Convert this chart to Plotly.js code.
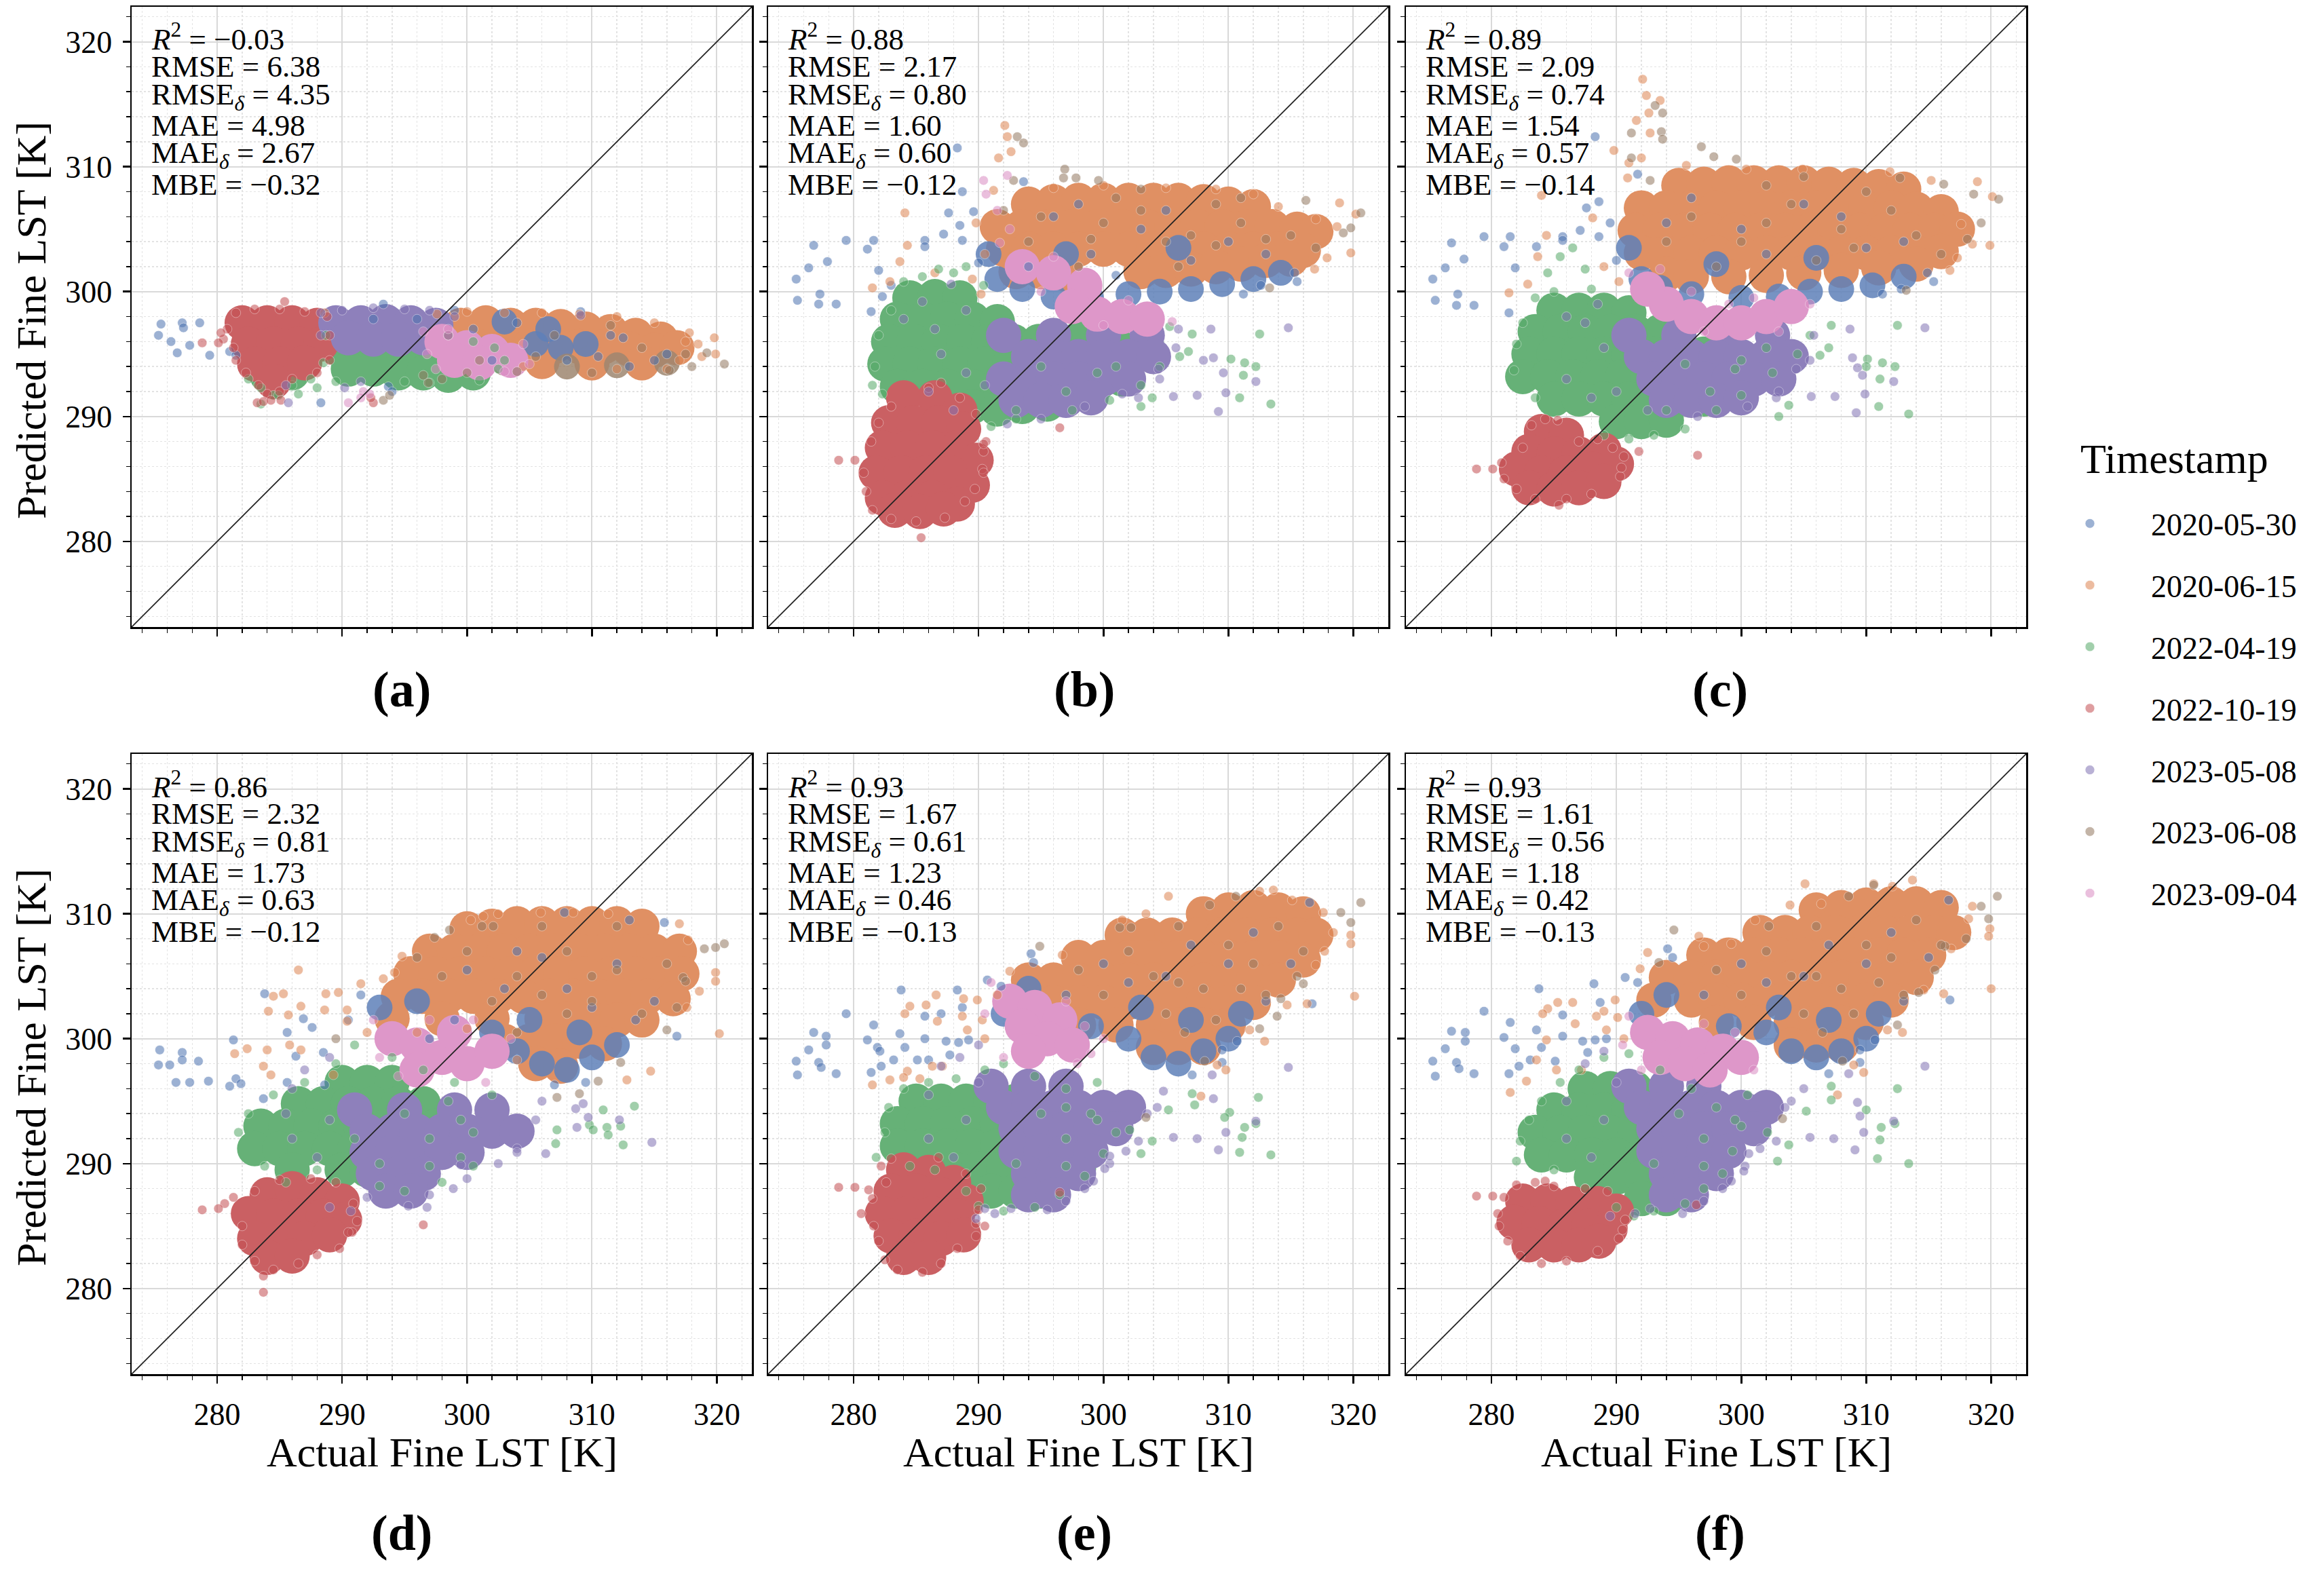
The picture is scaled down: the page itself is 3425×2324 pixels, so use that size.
<!DOCTYPE html>
<html>
<head>
<meta charset="utf-8">
<script src="https://cdn.plot.ly/plotly-3.0.1.min.js"></script>
<style>
html, body { margin: 0; padding: 0; background: #fff; }
#plot { width: 3425px; height: 2324px; }
</style>
</head>
<body>
<div id="plot"></div>
<script>
// ---- series / labels ----
const seriesNames = ['2020-05-30', '2020-06-15', '2022-04-19', '2022-10-19', '2023-05-08', '2023-06-08', '2023-09-04'];
const panelLetters = ['a', 'b', 'c', 'd', 'e', 'f'];
const tickVals = [280, 290, 300, 310, 320];

// metrics per panel (a..f)
const r2    = [-0.03, 0.88, 0.89, 0.86, 0.93, 0.93];
const rmse  = [6.38, 2.17, 2.09, 2.32, 1.67, 1.61];
const rmseD = [4.35, 0.80, 0.74, 0.81, 0.61, 0.56];
const mae   = [4.98, 1.60, 1.54, 1.73, 1.23, 1.18];
const maeD  = [2.67, 0.60, 0.57, 0.63, 0.46, 0.42];
const mbe   = [-0.32, -0.12, -0.14, -0.12, -0.13, -0.13];

// ---- point clouds: [actual, predicted] ----
// *_core = dense interior of a cloud, *_dots = individual / sparse points

// panel a
const a_blue_core = [[305.5,295.8],[307.5,295.5],[309.5,295.8],[306.5,297],[303,297.6]];
const a_blue_dots = [[275.5,297.4],[275.3,296.5],[276.3,296],[276.8,295.1],[277.2,297.5],[277.3,297.1],[277.8,295.7],[278.6,297.5],[279.4,294.9],[281,295.2],[281.5,294.9],[288.3,291.1],[293.3,299],[293.7,292.4],[294,292],[296,297.8],[299,298.5],[300.5,297],[304,297.5],[308,294.5],[310.5,294.8],[311.5,296.5],[312.5,296.3],[313,294],[315,294.5],[316,295],[309.1,298.4],[292.5,297.8],[302,294.5]];
const a_orange_core = [[299.5,297.3],[301.5,297.5],[303.5,297.3],[305.5,297.3],[307.5,297.2],[309.5,297],[311.5,296.8],[313.5,296.5],[315.5,296.2],[301,295.6],[303,295.6],[305,295.6],[307,295.6],[309,295.6],[311,295.6],[313,295.4],[315,295.3],[316.8,295.5],[306,294.4],[310,294.3],[314,294.3]];
const a_orange_dots = [[297.6,298.2],[300,298.4],[303,298.3],[306,298.3],[309,298.2],[312,298],[315,297.5],[317.8,296.7],[319.8,296.3],[318.8,294.8],[319.9,295],[318.5,295.8],[317,294.5],[288.6,298.3],[316,293.8],[312,293.8],[298.5,296.5],[304.5,294],[317.5,296]];
const a_green_core = [[289.5,295.5],[291.5,295.3],[293.5,295],[295.5,294.8],[297.5,294.5],[299.5,294.3],[290.5,293.8],[292.5,293.8],[294.5,293.5],[296.5,293.5],[298.5,293.3],[300.5,293.5],[301.5,295],[284,293.3],[286,293.5]];
const a_green_dots = [[282.5,293],[283.5,292.3],[284.5,291.7],[286,292.5],[287.5,293],[288.5,294.3],[284.9,291.7],[286.5,291.8],[288,292.3],[289.5,292.8],[295,292.8],[297,292.7],[301,292.9],[302.5,293.8],[302.2,295.5],[300.5,296],[288.7,296.5],[303,294.5],[283.5,291]];
const a_red_core = [[282,297.5],[284,297.5],[286,297.5],[288,297.3],[282.5,295.8],[284.5,295.8],[286.5,295.8],[288.3,295.8],[283,294.2],[285,294.2],[287,294.3],[284.5,292.8]];
const a_red_dots = [[280.8,297],[280.5,296.2],[281.5,298.3],[283,298.6],[285,298.6],[287,298.4],[288.8,298],[289,296.5],[289,294.5],[288,293.5],[286,293],[285,292],[284,291.8],[283.3,292.5],[282.3,293.5],[281.5,294.5],[281.3,295.5],[285.4,299.2],[283.2,291.1],[283.7,291.2],[285.1,291.3],[280.3,296.7],[278.8,295.9],[280.1,295.9],[292.5,291.1],[292.3,291.5],[284.3,291.3]];
const a_purple_core = [[289.5,297.5],[291.5,297.5],[293.5,297.6],[295.5,297.5],[297.5,297.3],[290.5,296.3],[292.5,296.2],[294.5,296.2],[296.5,296.3]];
const a_purple_dots = [[288.3,298.3],[290,298.5],[292.5,298.7],[295,298.6],[297,298.5],[299,298],[298.5,296.5],[288.3,296.5],[309.1,298.1],[285.7,291.1],[290.2,292.3],[291.5,292.8],[285.5,292.5]];
const a_brown_core = [[303,294.3],[308,294],[312,294.1],[316,294.3]];
const a_brown_dots = [[320.6,294.2],[319.2,295.1],[316.2,293.7],[296.9,292.7],[293.3,291.3],[293.8,291.7],[300,293.5],[317.5,295],[318,294],[310,293.5],[304,293.6],[307,296.5],[314,295.5],[305.5,294.8],[301,294.5],[296.5,293.3],[311.5,297.3],[298,293]];
const a_pink_core = [[298,296],[300,295.5],[302,295.2],[299,294.5],[301,294.3],[303.5,294.5]];
const a_pink_dots = [[296.5,296.8],[298.5,297],[304.5,295.8],[305,294.2],[297.5,293.8],[303,293.6],[291.7,292],[290.5,291.1],[292.2,291.8],[291.5,291.5],[296.8,295]];

// panel b
const b_blue_core = [[290.8,303],[291.5,301],[293.5,300.2],[296,299.6],[299,299.5],[302,299.8],[304.5,300],[307,300.2],[309.5,300.6],[312,301],[314.2,301.5],[297,303],[306,303.5]];
const b_blue_dots = [[275.4,301],[276.4,301.9],[276.8,303.7],[277.9,302.4],[275.5,299.3],[277.3,299.8],[277.2,299],[278.6,299],[279.4,304.1],[281.1,303.4],[281.6,304.1],[281.4,298.4],[282,301.7],[285.7,304.1],[285.7,303.6],[287.2,304.6],[287.6,306.3],[288.3,311.5],[288.7,308],[288.7,304.1],[289.6,306.4],[282.3,299.6],[283,300.5],[293.6,308.8],[315.3,301.5],[315.5,300.8],[311.2,299.8],[312.6,300.5],[296,306],[299,303],[303,305],[307,302.5],[310,304],[313,303],[301,301.3],[305,306.5],[294,302],[298,307],[290,302.3],[288.5,305.3]];
const b_orange_core = [[294,307],[296,307.2],[298,307.3],[300,307.3],[302,307.3],[304,307.3],[306,307.3],[308,307.2],[310,307],[312,306.8],
  [291.5,305.2],[293.5,305.2],[295.5,305.2],[297.5,305.2],[299.5,305.2],[301.5,305.2],[303.5,305.2],[305.5,305.2],[307.5,305.2],[309.5,305.2],[311.5,305.2],[313.5,305.2],[315.5,305],[317,304.8],
  [292,303.4],[294,303.4],[296,303.4],[298,303.4],[300,303.4],[302,303.4],[304,303.4],[306,303.4],[308,303.4],[310,303.4],[312,303.4],[314,303.4],[316,303.3],
  [293,301.6],[295,301.6],[297,301.4],[303,301.6],[305,301.7],[307,301.8],[309,302],[311,302.2],[313,302.5],[315,302.6]];
const b_orange_dots = [[292.1,313.3],[292.3,312.4],[292.6,311.2],[291.6,310.7],[291.2,308.1],[284.1,306.3],[284.3,303.7],[283.7,302.4],[281.5,300.3],[282.9,300.8],[318.9,307.1],[319.8,303.1],[320.2,306.2],[318.7,305.2],[316.9,301.8],[317.9,302.7],[296,308.3],[300,308.5],[305,308.3],[309,308.2],[312,307.8],[289.8,305.5],[290.5,303],[314,306.8],[317,305.8],[289.5,301],[290.2,299.8],[286.5,301.5]];
const b_green_core = [[284.5,299.5],[286.5,299.6],[288.5,299.5],
  [283.5,297.8],[285.5,297.8],[287.5,297.8],[289.5,297.8],[291.5,297.6],
  [282.8,296],[284.8,296],[286.8,296],[288.8,296],[290.8,296],[292.8,296],[294.8,296],
  [282.5,294.2],[284.5,294.2],[286.5,294.2],[288.5,294.2],[290.5,294.2],[292.5,294.2],[294.5,294.2],[296.5,294.2],[298.5,294.2],
  [283.5,292.4],[285.5,292.4],[287.5,292.4],[289.5,292.4],[291.5,292.4],[293.5,292.4],[295.5,292.4],[297.5,292.4],[299.5,292.6],[301.5,293],
  [289.5,290.8],[291.5,290.6],[293.5,290.8],[295.5,291],[298,296.2],[301,295.8],[303.5,295.5]];
const b_green_dots = [[281.7,294],[281.5,292.5],[282,296.5],[283,298.5],[286.8,301.8],[288,301.5],[290.4,300.5],[289,302],[291,289.2],[293,289.8],[300.5,291.3],[303,292.5],[304.5,294],[305.3,297.2],[312.5,296.6],[310.2,294.6],[311.3,294.3],[312.2,294],[311.2,293.3],[310.9,291.5],[313.4,291],[303,290.8],[303.9,291.5],[307.1,296.6],[306.8,295.2],[306.1,294.8],[284,300.8],[285.5,301.2],[282.3,291.8],[297.5,290.5],[293,290.5],[297,292],[299.5,293.5],[295,294],[301,294]];
const b_red_core = [[284,291.5],[286.5,291.5],[288.5,290.5],[282.8,289.5],[284.8,289.5],[286.8,289.5],[288.8,289],[282.3,287.5],[284.3,287.5],[286.3,287.5],[288.3,287.5],[289.8,286.5],[281.8,285.5],[283.8,285.5],[285.8,285.5],[287.8,285.5],[289.5,284.5],[282.3,283.5],[284.3,283.5],[286.3,283.5],[288.3,283],[283.3,282.5],[285.3,282.4],[287.2,282.6]];
const b_red_dots = [[280.8,285.5],[281,284],[281.5,282.5],[283,281.8],[285,281.6],[287.3,281.9],[288.9,283.2],[290.3,285.8],[290.6,288],[290.4,287.2],[289.8,290.2],[288.5,291.5],[287,292.7],[286,292.3],[283,290.8],[282,289.5],[281.4,288],[278.8,286.5],[280.1,286.5],[296.5,289.1],[285.4,280.3],[290.4,287.8],[290.4,285.5],[289.7,284.2]];
const b_purple_core = [[292,296.5],[296,296.5],[300,296.5],[303.5,296.5],[294,294.8],[296,294.8],[298,294.8],[300,294.8],[302,294.8],[304,294.8],[292,293],[294,293],[296,293],[298,293],[300,293],[302,293],[293,291.3],[295,291.3],[297,291.3],[299,291.5]];
const b_purple_dots = [[314.8,297.1],[308.6,297],[308.8,294.7],[308,294.5],[309.6,293.5],[312.2,292.8],[309.2,290.4],[309.8,291.9],[307.5,291.7],[305.6,291.6],[302.8,291.5],[304.4,293.8],[292.3,289.4],[295,289.8],[298.5,290.8],[301.5,291.8],[304.5,293],[305.8,295.5],[306,297],[284,297.8],[285.5,299.2],[287.8,300.6],[289,298.5],[286.5,297],[290.5,292.5],[286,292],[288,290.5],[289,293.5],[287,295]];
const b_brown_dots = [[293.1,312.4],[293.6,311.9],[296.9,309.8],[296.8,309.1],[297.8,309.1],[299.6,308.9],[316.2,307.3],[320.6,306.3],[319.8,305.1],[319.2,304.7],[313.3,300.3],[292.8,308.9],[311,307.5],[303,308.2],[295,306],[303,306.5],[311,305.5],[315,304.5],[298,302],[306,302],[301,307.5],[309,307],[294,304],[317,303.5],[300,305.5],[305,304],[309,303.7],[292,306.5],[299,304.2],[307,304.5],[313,304.2]];
const b_pink_core = [[293.5,302],[296,301.5],[298.5,300.5],[297.5,298.8],[299.5,298.2],[301.5,298],[303.5,297.8]];
const b_pink_dots = [[290.4,308.9],[290.6,307.8],[292.3,309.3],[291.7,303.9],[305.5,297.6],[300,297.3],[295,300],[292.5,305],[296,302.8],[302,299.3],[291.5,306.5]];

// panel c
const c_blue_core = [[291,303.5],[292,301],[293.5,300.3],[296,299.8],[300,299.5],[303,299.6],[305.5,300],[308,300.2],[310.5,300.5],[313,301.2],[298,302.2],[306,302.7]];
const c_blue_dots = [[275.3,301],[276.3,301.9],[276.8,303.9],[277.8,302.6],[275.5,299.3],[277.3,299.8],[277.2,298.9],[278.6,298.9],[279.4,304.4],[281,303.6],[281.5,304.4],[281.4,298.3],[281.9,301.9],[285.7,304.4],[285.7,304.1],[287.1,304.9],[287.6,306.7],[288.3,312.4],[288.6,307.2],[288.6,304.4],[283.6,303.6],[314.9,301.5],[315.4,300.8],[311.3,299.8],[312.8,300.2],[291.7,309.4],[300,305],[305,307],[310,303.5],[296,307.5],[302,303],[308,306],[313,304],[294,305.5],[289.5,305.5],[290,302.5]];
const c_orange_core = [[295,308.5],[297,308.6],[299,308.7],[301,308.7],[303,308.7],[305,308.7],[307,308.6],[309,308.5],[311,308.4],[313,308.2],
  [292,306.7],[294,306.7],[296,306.7],[298,306.7],[300,306.7],[302,306.7],[304,306.7],[306,306.7],[308,306.7],[310,306.7],[312,306.7],[314,306.6],[316,306.4],
  [291.5,304.9],[293.5,304.9],[295.5,304.9],[297.5,304.9],[299.5,304.9],[301.5,304.9],[303.5,304.9],[305.5,304.9],[307.5,304.9],[309.5,304.9],[311.5,304.9],[313.5,304.9],[315.5,304.9],[317.3,305],
  [292,303.1],[294,303.1],[296,303.1],[298,303.1],[300,303.1],[302,303.1],[304,303.1],[306,303.1],[308,303.1],[310,303.1],[312,303.1],[314,303.1],[316,303.2],
  [294,301.4],[296,301.2],[299,301.2],[302,301.3],[305,301.5],[308,301.7],[311,301.9],[314,302.2]];
const c_orange_dots = [[292.1,317],[292.4,315.7],[293.5,315.3],[292.6,314.3],[291.6,313.7],[292.7,312.7],[289.8,311.3],[291,310.3],[292,310.7],[284,307.7],[284.4,304.5],[283.7,302.8],[282.9,300.6],[281.4,299.9],[318.9,308.8],[320.1,307.6],[319.9,303.7],[318.5,303.8],[317.3,302.7],[317.6,305.4],[316.7,301.7],[290.9,309.1],[288.1,305.9],[311.9,309.6],[315.2,308.9],[304.9,309.8],[300.4,309.8],[295.6,310.1],[290.2,300.8],[289,302]];
const c_green_core = [[285,298.5],[287,298.5],[289,298.5],[291,298.3],
  [283.5,296.8],[285.5,296.8],[287.5,296.8],[289.5,296.8],[291.5,296.8],[293.5,296.8],
  [283,295],[285,295],[287,295],[289,295],[291,295],[293,295],[295,295],[297,295],
  [282.5,293.2],[284.5,293.2],[286.5,293.2],[288.5,293.2],[290.5,293.2],[292.5,293.2],[294.5,293.2],[296.5,293.2],[298.5,293.2],
  [285,291.4],[287,291.4],[289,291.4],[291,291.4],[293,291.4],[295,291.4],[297,291.4],
  [290,289.6],[292,289.6],[294,289.7]];
const c_green_dots = [[281.8,293.7],[282,295.8],[282.5,297.5],[283.5,299.5],[284.5,301.5],[285.5,302.8],[286.5,303.5],[287.5,301.8],[285,300],[289,288.5],[291,288.2],[293,288.5],[295.5,289],[298,290.5],[300,291.7],[302.5,293.5],[304.5,295],[305.5,296.5],[312.5,297.3],[310.1,294.6],[311.3,294.3],[312.3,294],[311.1,293],[311,290.8],[313.4,290.2],[303,290],[303.8,290.9],[307.2,297.3],[307,295.5],[306.3,294.9],[310,294],[283.5,291.5],[288,300.2],[300,294.5],[302,295.5],[294,290.5],[297.5,292],[299.5,293.8],[295.5,294.2]];
const c_red_core = [[284,288.8],[286,288.5],[283,287.2],[285,287],[287,287],[289,287.3],[282,285.8],[284,285.5],[286,285.5],[288,285.8],[290,286.2],[283,284.3],[285,284.2],[287,284.3],[289,284.8]];
const c_red_dots = [[281,285],[280.8,286.3],[282,284.2],[283.5,283.4],[286,283.4],[288,283.8],[290.6,286.8],[290.3,285.2],[288.5,288.2],[283.2,289.3],[284.3,289.8],[285.3,289.7],[282.5,287.5],[278.8,285.8],[280.1,285.8],[285.4,282.9],[296.5,286.9],[291.8,287.2],[290.4,285.9],[287,288],[289.7,287.5]];
const c_purple_core = [[291,296.5],[295,296.5],[299,296.5],[302.5,296.5],[292,294.8],[294,294.8],[296,294.8],[298,294.8],[300,294.8],[302,294.8],[304,294.8],[293,293],[295,293],[297,293],[299,293],[301,293],[303,293],[294,291.3],[296,291.3],[298,291.3],[300,291.5]];
const c_purple_dots = [[314.7,297.1],[308.7,297],[309.3,293.9],[308.9,294.7],[309.7,293.3],[312.2,292.8],[309.2,290.3],[309.9,291.8],[307.5,291.6],[305.6,291.6],[302.8,291.5],[304.4,293.8],[303,292],[305.5,294.5],[305.8,296.5],[296.5,290],[300.5,290.8],[287.5,297.5],[288.5,299],[286,298],[292.5,290.5],[290,292],[286,293],[288,291.5],[289,295.5]];
const c_brown_dots = [[293.1,314.9],[293.7,314.3],[293.6,312.8],[293.7,312.2],[291.2,312.7],[291.2,310.7],[292.7,308.9],[296.8,311.6],[297.8,310.8],[299.6,310.6],[312.7,309.1],[316.2,308.6],[318.6,307.8],[320.6,307.4],[319.2,305.5],[313.2,300.1],[318.1,304.2],[296,306],[304,307],[312,306.5],[298,302],[306,302.5],[310,308],[302,308.5],[294,304],[316,303],[302,305.5],[309,303.5],[305,309.2],[300,304],[308,305],[314,304.5]];
const c_pink_core = [[294,299],[296,298],[298,297.5],[300,297.5],[302,298],[304,298.8],[292.5,300.2]];
const c_pink_dots = [[291,301.5],[305.5,299],[296,300],[299,299],[303,296.8],[293.5,301.8],[297,296.8],[301,299.5]];

// panel d
const d_blue_core = [[302,300.5],[304,299],[306,298],[308,297.5],[310,298.5],[305,301.5],[309,300.5],[312,299.5],[293,302.5],[296,303]];
const d_blue_dots = [[275.4,299.1],[275.3,297.9],[276.2,297.9],[277.2,298.9],[277.2,298.3],[278.5,298.2],[276.7,296.5],[277.8,296.5],[279.3,296.6],[281,296.2],[281.5,296.8],[281.9,296.4],[281.3,299.9],[283.7,295.2],[283.8,303.6],[285.6,296.5],[285.6,300.5],[286.3,298.6],[286.9,301.6],[287.6,300.9],[288.5,298.9],[288.6,296.3],[316.8,300.2],[315.8,309.3],[313,309.5],[307.8,310.1],[300,305.5],[304,307],[308,304],[312,306],[315,303],[299,301.5],[303,304],[306,306.5],[310,302.5],[313.5,301.5],[297,300],[290.5,301.5],[291.5,303.5],[307,296.3],[309.5,296.5]];
const d_orange_core = [[300,308.8],[302,309],[304,309.2],[306,309.2],[308,309.2],[310,309.2],[312,309.2],[314,309],
  [297,307],[299,307],[301,307],[303,307],[305,307],[307,307],[309,307],[311,307],[313,307],[315,307],[317,307],
  [295.5,305.2],[297.5,305.2],[299.5,305.2],[301.5,305.2],[303.5,305.2],[305.5,305.2],[307.5,305.2],[309.5,305.2],[311.5,305.2],[313.5,305.2],[315.5,305.2],[317.2,305.2],
  [294.5,303.4],[296.5,303.4],[298.5,303.4],[300.5,303.4],[302.5,303.4],[304.5,303.4],[306.5,303.4],[308.5,303.4],[310.5,303.4],[312.5,303.4],[314.5,303.4],[316.5,303.2],
  [294,301.6],[298,301.6],[302,301.6],[306,301.6],[308,301.6],[310,301.6],[312,301.5],[314,301.5],
  [303,299.8],[305,299.8],[307,299.8],[309,299.8],[311,299.6],[305.5,298],[307.5,297.8]];
const d_orange_dots = [[286.5,305.5],[284.1,302.2],[285.3,303.6],[284.5,303.4],[286.7,302.6],[285.7,301.9],[281.4,298.8],[282.4,299.2],[284,299.1],[284.3,297.1],[283.7,297.8],[285.8,299.5],[286.7,299.1],[288.7,303.6],[288.6,302.3],[290.4,302.3],[290.4,301.4],[289.7,303.7],[289.3,297.1],[291.5,304.4],[293.3,304.8],[294.2,305.3],[294.8,306.6],[300.3,309.5],[301.3,309.8],[302.5,310],[305.9,310.1],[308.5,310.1],[311.3,310],[317,309.2],[317.7,307.9],[319.9,305.3],[319.9,304.6],[318.6,303.8],[317.6,302.5],[320.2,300.4],[314.7,297.4],[312.8,296.7],[292,300.5],[296,300.5],[300,300.8],[304,298.3]];
const d_green_core = [[290,296.5],[292,296.5],[294,296.5],
  [286.5,294.8],[288.5,294.8],[290.5,294.8],[292.5,294.8],[294.5,294.8],[296.5,294.8],
  [283.5,293],[285.5,293],[287.5,293],[289.5,293],[291.5,293],[293.5,293],[295.5,293],[297.5,293],
  [283,291.2],[285,291.2],[287,291.2],[289,291.2],[291,291.2],[293,291.2],[295,291.2],[297,291.2],
  [286,289.5],[290,289.5],[292,289.5],[294,289.5],[296,289.5]];
const d_green_dots = [[281.7,292.5],[282.5,294],[283.8,289.8],[285.5,288.5],[287,296.5],[289.5,298],[291,299.5],[294,298.5],[296.5,297.5],[298.5,295],[300.5,292.5],[299.5,290.5],[298,288.5],[295,287.8],[293,288.2],[310.9,294.3],[313.4,294.6],[309.8,293.1],[310.1,292.7],[311.2,292.9],[311.3,292.3],[312.3,293],[312.5,291.5],[307.2,292.7],[307.1,291.6],[300.5,289.8],[284.5,295.5],[288,289.5],[302,295.5],[299,296.5],[293,290],[297,292],[299.5,293.5],[295,294],[291,292],[297,289.8]];
const d_red_core = [[284,287.5],[286,288],[288,287.5],[290,287],[282.5,286],[284.5,285.8],[286.5,285.8],[288.5,285.8],[290.2,285.5],[283,284],[285,284],[287,284],[289,284.3],[284,282.5],[286,282.6]];
const d_red_dots = [[280.6,286.8],[281.3,287.3],[282,285],[282,283.5],[283,282.2],[284.5,281.5],[283.7,281],[286.5,282],[288,282.7],[289.8,283.2],[290.8,284.5],[290.9,286.8],[289.5,288.5],[287.5,288.8],[285,288.7],[283,287.8],[278.8,286.3],[280.1,286.4],[283.7,279.7],[296.5,285.1],[290.5,284.5],[291.2,285.4]];
const d_purple_core = [[291,294.3],[295,294.3],[299,294.3],[302,294.3],[292,292.6],[294,292.6],[296,292.6],[298,292.6],[300,292.6],[302,292.6],[304,292.6],[292,290.9],[294,290.9],[296,290.9],[298,290.9],[300,290.9],[292.5,289.2],[294.5,289.2],[296.5,289.2],[293.5,287.8],[295.5,287.8]];
const d_purple_dots = [[286,296],[287,297.5],[289,298.5],[305.5,293.5],[304,291.2],[302.5,290],[300,288.8],[297,287.5],[292,287.3],[290.7,286.2],[289,286.5],[314.8,291.7],[308.7,294.4],[309.3,294.8],[309.7,293.7],[312.2,293.5],[308.8,292.9],[306.3,290.8],[304,290.9],[299.5,289.9],[298.9,288],[296.8,286.5],[295.3,286.6],[306,295],[285.5,294],[286,292],[288,290.5],[289,293.5]];
const d_brown_dots = [[298.6,308.7],[301.2,309],[302.1,309],[297.4,308.1],[317.3,304.9],[319,307.2],[319.9,307.3],[320.6,307.6],[316.8,302.5],[317.5,304.6],[316,300.7],[312.3,298.1],[310.5,296.6],[309,295.6],[307.2,295.3],[289.5,300],[300,307],[308,307],[316,306],[302,303],[306,303.5],[310,303],[314,302],[298,305],[306,309],[312,309],[304,300.5],[310,305],[296,306.5],[304,305],[312,305.5],[308,302]];
const d_pink_core = [[294,300],[296,299.5],[298,298.5],[300,298],[296,297.5],[302,299],[299,300.5]];
const d_pink_dots = [[292.5,301.5],[293,298.5],[301.5,296.5],[297,301.5],[303.5,300],[294.5,297],[300.5,301.5]];

// panel e
const e_blue_core = [[292,302],[294,304],[299,301],[302,300],[304,298.5],[306,298],[308,299],[310,300],[303,302.5],[307,301.5],[311,302]];
const e_blue_dots = [[275.4,298.2],[275.5,297.1],[276.4,299.1],[276.8,300.5],[277.2,298.1],[277.4,297.7],[277.8,300.2],[277.8,299.5],[278.6,297.2],[279.4,302],[281.1,299.9],[281.6,301.1],[281.9,299.3],[282.1,299],[281.4,297.3],[282.2,297.8],[283.2,298.3],[283.7,300.4],[283.8,303.9],[284.1,299.3],[285.1,298.3],[285.7,301.8],[285.7,300],[286,298.3],[287,302],[287.4,299.8],[287.7,298.7],[288.3,303.9],[288.7,302.5],[288.4,299.7],[289.2,299.9],[290.7,304.7],[291.8,304.2],[294.2,306.8],[294.4,306.1],[316.7,302.8],[316.5,310.9],[310.7,299.8],[309.5,299.1],[309.5,298.1],[307.1,297.1],[313,303],[300,306],[305,305],[310,306],[297,303.5],[302,304.5],[307,307.5],[312,308.5],[315,306]];
const e_orange_core = [[308,310],[310,310.3],[312,310.5],[314,310.3],[316,310],
  [301.5,308.3],[303.5,308.3],[305.5,308.3],[307.5,308.3],[309.5,308.3],[311.5,308.3],[313.5,308.3],[315.5,308.3],[317,308.3],
  [298,306.5],[300,306.5],[302,306.5],[304,306.5],[306,306.5],[308,306.5],[310,306.5],[312,306.5],[314,306.5],[316,306.3],
  [294,304.7],[296,304.7],[298,304.7],[300,304.7],[302,304.7],[304,304.7],[306,304.7],[308,304.7],[310,304.7],[312,304.7],[314,304.7],
  [293,302.9],[296,302.9],[298,302.9],[300,302.9],[302,302.9],[304,302.9],[306,302.9],[308,302.9],[310,302.9],[312,302.9],
  [298,301.1],[301,301.1],[304,301.1],[306,301.1],[308,301.1],[310,301.1],[304,299.3],[306,299.3],[308,299.3]];
const e_orange_dots = [[305.2,311.4],[301.5,309.5],[296.7,306.7],[292.5,305.4],[291.5,303.5],[289.9,303.1],[288.8,303.2],[288.7,301.8],[289.1,300.7],[290.3,301.5],[290.5,300],[286.6,303.5],[285.8,302.7],[284.5,302.6],[284.1,302],[286.7,301.4],[287.1,297.8],[286.3,297.8],[284.3,297.4],[284,296.9],[282.9,296.7],[281.5,296.3],[285.3,296.8],[319.8,308.3],[320.1,303.4],[319.8,307.6],[318.4,308.5],[317.6,310.1],[317.7,307],[317,305.9],[316.3,302.8],[314.7,302.7],[312.9,299.8],[311.7,300.7],[309.8,297.5],[309.1,297.9],[307.8,295.4],[313.6,311.9],[303.4,310],[312.5,311.8],[315.1,311.1]];
const e_green_core = [[285,295],[287,295],[289,295],[291,295],[293,295],
  [283.5,293.2],[285.5,293.2],[287.5,293.2],[289.5,293.2],[291.5,293.2],[293.5,293.2],[295.5,293.2],
  [283.5,291.4],[285.5,291.4],[287.5,291.4],[289.5,291.4],[291.5,291.4],[293.5,291.4],[295.5,291.4],[297.5,291.4],
  [288,289.6],[290,289.6],[292,289.6],[294,289.6],[296,289.6],[298,289.6],[291,287.8],[293,287.8],[295,287.8]];
const e_green_dots = [[281.8,290.5],[282.5,292.5],[282.8,294.5],[284,296],[286,296.5],[288.2,296.8],[290.5,297.5],[292,298],[294.5,297],[297,296],[299,294],[301,292.5],[300,290.8],[298.5,289],[296.5,287.5],[294.5,286.5],[292,286.2],[290,286.6],[289,287.8],[286.5,289.5],[312.4,295.3],[310.1,294.1],[309.7,293.7],[311.3,292.9],[312.2,293.2],[311.1,292.1],[310.9,290.9],[313.4,290.7],[303,290.8],[303.9,291.8],[307.1,295.6],[307.3,294.7],[305.2,294.3],[302.1,292.7],[284.5,289.8],[297,294.5],[299.5,296.5],[293,290],[297,292],[299.5,293.5],[295,294],[297,289.8]];
const e_red_core = [[284,289.5],[286,289.3],[288,288.5],[283,287.8],[285,287.8],[287,287.5],[289,287],[282.3,286],[284.3,286],[286.3,286],[288.3,285.8],[283,284.2],[285,284.2],[287,284],[288.8,284.3],[284,282.5],[286,282.5]];
const e_red_dots = [[282.2,289.8],[283,290.4],[286.8,290.5],[289,289.2],[290.2,288],[290,286.3],[289.8,285.2],[288.3,283.2],[287,282],[285.5,281.3],[283.5,281.5],[282.5,282.3],[282,283.8],[281.6,285],[280.6,286],[281.5,287.2],[282.6,288.5],[278.8,288.1],[280.1,288.1],[281.2,287.9],[290.5,285],[289.8,284.2],[296.5,287.7]];
const e_purple_core = [[291,296.2],[294,296.2],[297,296.2],[292,294.5],[294,294.5],[296,294.5],[298,294.5],[300,294.5],[302,294.5],[293,292.8],[295,292.8],[297,292.8],[299,292.8],[301,292.8],[293,291],[295,291],[297,291],[299,291],[294,289.2],[296,289.2],[298,289.2],[294,287.5],[296,287.5]];
const e_purple_dots = [[287,297.8],[288.5,298.5],[290,299.5],[303.5,294],[304.8,295.8],[301.8,291],[300.5,290],[298.5,288],[297,287],[295.5,286.3],[291.3,286],[289.8,285.6],[314.8,297.7],[308.7,297.1],[308.8,295.2],[312.2,293.4],[309.8,292.5],[309.2,291.1],[307.5,292],[305.6,292.1],[302.8,291.8],[304.3,294.5],[300.1,289.6],[300.5,290.6],[299.2,288.6],[292.6,286.4],[290.5,286.4],[286,295.5],[286,292],[288,290.5],[289,293.5],[290,296.5]];
const e_brown_dots = [[310.6,311.4],[308.5,310.7],[320.6,310.9],[319.8,309.3],[319,310.1],[316,304.4],[314.2,303.2],[313.9,301.8],[312.5,300.8],[308.1,298.2],[303.4,293.7],[302.2,308.9],[301.3,308.9],[294.9,307.4],[302,307],[306,309],[310,307.5],[314,309],[304,305],[308,304],[316,307],[300,303.5],[305,302],[313,303.5],[298,305.5],[311,304],[306.5,300.5],[315.5,305],[306,304.5],[312,306],[309,301.5]];
const e_pink_core = [[292.5,303],[294.5,302.5],[296.5,301.5],[293.5,301],[295.5,300],[297.5,299.5],[294,299]];
const e_pink_dots = [[291,304.5],[297.9,298],[298.5,301],[300,300],[290.5,302],[292,298.5],[297,303],[299,298.8]];

// panel f
const f_blue_core = [[292,302],[294,303.5],[299,301],[302,300.5],[304,299],[306,298.5],[308,299],[310,300],[303,302.5],[307,301.5],[311,302]];
const f_blue_dots = [[275.3,298.2],[275.5,297],[276.3,299.2],[276.8,300.6],[277.2,298.1],[277.4,297.6],[277.9,299.8],[277.9,300.5],[278.6,297.2],[279.4,302.2],[281,300.1],[281.5,301.3],[281.9,299.2],[281.4,297.2],[282.2,297.8],[283.1,298.3],[283.6,300.7],[283.8,304],[284,299.3],[285.1,298.2],[285.7,301.9],[285.7,300.2],[287.3,299.8],[287.7,298.9],[288.2,304.4],[288.7,302.9],[288.3,299.9],[289.2,300],[290.7,304.9],[291.7,304.5],[294.1,307.2],[294.5,306.5],[316.7,303.1],[316.6,311.1],[310.7,299.9],[309.5,299.1],[309.5,298.1],[307,297.2],[313,303],[300,306],[305,305],[310,306],[297,303.5],[302,304.5],[307,307.5],[312,308.5],[315,306.5]];
const f_orange_core = [[306,310.3],[308,310.5],[310,310.7],[312,310.8],[314,310.8],[316,310.5],
  [301.5,308.5],[303.5,308.5],[305.5,308.5],[307.5,308.5],[309.5,308.5],[311.5,308.5],[313.5,308.5],[315.5,308.5],[317,308.5],
  [297,306.7],[299,306.7],[301,306.7],[303,306.7],[305,306.7],[307,306.7],[309,306.7],[311,306.7],[313,306.7],[315,306.7],
  [294,304.9],[296,304.9],[298,304.9],[300,304.9],[302,304.9],[304,304.9],[306,304.9],[308,304.9],[310,304.9],[312,304.9],[314,304.9],
  [293,303.1],[296,303.1],[298,303.1],[300,303.1],[302,303.1],[304,303.1],[306,303.1],[308,303.1],[310,303.1],[312,303.1],
  [298,301.3],[301,301.3],[304,301.3],[306,301.3],[308,301.3],[310,301.3],[304,299.5],[306,299.5],[308,299.5]];
const f_orange_dots = [[305.1,312.4],[303.9,310.7],[306.4,310.8],[310.6,312.4],[312.1,312.2],[313.7,312.7],[301.1,309.5],[296.6,308.2],[297,307.4],[299.2,307.6],[292.5,306.9],[291.9,305.6],[289.9,303.1],[289,302.2],[290.1,301.7],[288.4,301.8],[289.2,300.7],[290.6,300],[284.5,302.4],[285.3,302.9],[286.5,302.9],[284.1,302],[286.7,301.2],[287.2,297.5],[283.6,298.3],[282.8,296.6],[281.5,295.7],[284.4,299.9],[285.2,297.5],[320,304],[319.9,308.8],[319.8,308.2],[318.5,310.6],[318.2,309.6],[316.8,307.2],[316.2,303.6],[314.6,303.9],[312.9,300.5],[311.7,300.7],[309.8,297.3],[309,297.9],[307.7,295.5]];
const f_green_core = [[287.5,296],[289.5,296],[291.5,296],
  [285,294.3],[287,294.3],[289,294.3],[291,294.3],[293,294.3],[295,294.3],
  [283.5,292.5],[285.5,292.5],[287.5,292.5],[289.5,292.5],[291.5,292.5],[293.5,292.5],[295.5,292.5],[297.5,292.5],
  [284,290.7],[286,290.7],[288,290.7],[290,290.7],[292,290.7],[294,290.7],[296,290.7],[298,290.7],
  [288,288.9],[290,288.9],[292,288.9],[294,288.9],[296,288.9],[292,287.2],[294,287.2]];
const f_green_dots = [[282,290.2],[282.3,291.8],[283,293.5],[284,295],[285.5,296.5],[287,297.5],[289,298.5],[291,298.8],[293.5,297.5],[296,296],[298,294.5],[300,293],[299.3,291],[298.5,289.2],[297,288],[295.5,286.8],[293,286.2],[291.4,285.8],[290,286.5],[287.5,288],[312.5,296],[310,294.3],[311.2,292.9],[312.3,293.2],[311.1,291.9],[310.9,290.4],[313.4,290],[302.9,290.2],[303.8,291.5],[307.2,296.2],[307.2,295.1],[305.2,294.2],[302.1,292.5],[285,289.5],[300.5,295.5],[293,290],[297,292],[299.5,293.5],[295,294],[297,289.8]];
const f_red_core = [[282.5,287],[284.5,287],[286.5,286.8],[288.5,286.8],[290,286.2],[281.8,285.3],[283.8,285.2],[285.8,285],[287.8,285],[289.5,284.8],[283,283.5],[285,283.5],[287,283.5],[288.6,283.8]];
const f_red_dots = [[280.5,286],[281,287.3],[282,288.3],[283.5,288.5],[285,288.2],[287.5,288],[289.3,287.8],[290.7,285.5],[290.2,284],[288.5,283],[286,282.2],[284,282],[282.3,282.6],[281.3,283.8],[280.6,285],[278.8,287.4],[280.1,287.4],[296.4,286.7],[290.5,284.7],[284.3,288.6]];
const f_purple_core = [[291,296.2],[294,296.2],[297,296.2],[292,294.5],[294,294.5],[296,294.5],[298,294.5],[300,294.5],[302,294.5],[293,292.8],[295,292.8],[297,292.8],[299,292.8],[301,292.8],[293,291],[295,291],[297,291],[299,291],[294,289.2],[296,289.2],[298,289.2],[294,287.5],[296,287.5]];
const f_purple_dots = [[287.5,298],[289,299],[303.5,294.5],[305,296],[301.5,291.2],[300.3,289.8],[298.5,288],[297,287],[295.3,286],[291.5,286],[289.5,285.8],[314.7,297.8],[308.6,297.2],[309.3,294.9],[309.5,293.8],[312.2,293.4],[309.8,292.5],[309.1,291.1],[307.4,292],[305.5,292.1],[302.8,291.8],[300.2,289.4],[299.2,288.6],[300.6,290.8],[292.7,286.4],[304,295],[286,295],[286,292],[288,290.5],[289,293.5],[290,296.5]];
const f_brown_dots = [[320.5,311.4],[319.2,310.6],[319.8,309.6],[318,308],[316.3,307.4],[314.2,303.7],[312.5,301.1],[308.1,298.2],[303.3,293.6],[302.2,309],[294.6,308.7],[293.4,306.1],[310.6,312.3],[308.6,311.4],[302,307],[306,309],[310,307.5],[314,309.5],[304,305],[308,304],[316,307.5],[300,303.5],[305,302],[313,303.5],[298,305.5],[311,304.5],[306.5,300.5],[315.5,305.5],[306,305],[312,306.5],[309,302]];
const f_pink_core = [[292.5,300.5],[294.5,300],[296.5,299.5],[298.5,299],[293.5,298.5],[295.5,298],[297.5,297.5],[300,298.5]];
const f_pink_dots = [[291,301.8],[299.5,300.5],[301,297.5],[292,297.5],[297,301.2],[290.5,299.5]];

// ---- tables built from the arrays above (series order = legend order) ----
const cores = [
  [a_blue_core, a_orange_core, a_green_core, a_red_core, a_purple_core, a_brown_core, a_pink_core],
  [b_blue_core, b_orange_core, b_green_core, b_red_core, b_purple_core, [], b_pink_core],
  [c_blue_core, c_orange_core, c_green_core, c_red_core, c_purple_core, [], c_pink_core],
  [d_blue_core, d_orange_core, d_green_core, d_red_core, d_purple_core, [], d_pink_core],
  [e_blue_core, e_orange_core, e_green_core, e_red_core, e_purple_core, [], e_pink_core],
  [f_blue_core, f_orange_core, f_green_core, f_red_core, f_purple_core, [], f_pink_core]
];
const dots = [
  [a_blue_dots, a_orange_dots, a_green_dots, a_red_dots, a_purple_dots, a_brown_dots, a_pink_dots],
  [b_blue_dots, b_orange_dots, b_green_dots, b_red_dots, b_purple_dots, b_brown_dots, b_pink_dots],
  [c_blue_dots, c_orange_dots, c_green_dots, c_red_dots, c_purple_dots, c_brown_dots, c_pink_dots],
  [d_blue_dots, d_orange_dots, d_green_dots, d_red_dots, d_purple_dots, d_brown_dots, d_pink_dots],
  [e_blue_dots, e_orange_dots, e_green_dots, e_red_dots, e_purple_dots, e_brown_dots, e_pink_dots],
  [f_blue_dots, f_orange_dots, f_green_dots, f_red_dots, f_purple_dots, f_brown_dots, f_pink_dots]
];

// ---- styling ----
const W = 3425, H = 2324;
const FONT = 'Liberation Serif, Times New Roman, serif';
const colors = ['#4C72B0', '#DD8452', '#55A868', '#C44E52', '#8172B3', '#937860', '#DA8BC3'];
// same hues seen through the dense overlap of semi-transparent points
const denseColors = ['#5E80B8', '#E09063', '#66B177', '#CA6063', '#8E80BB', '#9E8670', '#DE97C9'];
const coreSize = [38, 52, 52, 52, 52, 38, 52];
const coreOpacity = [0.85, 1, 1, 1, 1, 0.85, 1];
const coreOrder = [1, 2, 3, 4, 0, 5, 6];
const axRange = [273.15, 322.8];
const colsPx = [[194, 1108], [1132, 2046], [2072, 2986]];
const rowsPx = [[10, 924], [1111, 2025]];
const labelX = [592, 1598, 2535];
const labelY = [1016, 2259];

const fmt = v => v.toFixed(2).replace('-', '\u2212');
const xy = pts => ({ x: pts.map(p => p[0]), y: pts.map(p => p[1]) });

const traces = [];
panelLetters.forEach((p, i) => {
  const ax = i === 0 ? '' : String(i + 1);
  coreOrder.forEach(s => {
    const d = xy(cores[i][s]);
    if (!d.x.length) return;
    traces.push({
      type: 'scatter', mode: 'markers', x: d.x, y: d.y,
      xaxis: 'x' + ax, yaxis: 'y' + ax,
      marker: { size: coreSize[s], color: denseColors[s], opacity: coreOpacity[s] },
      legendgroup: seriesNames[s], showlegend: false, hoverinfo: 'skip'
    });
  });
  dots[i].forEach((pts, s) => {
    const d = xy(pts);
    traces.push({
      type: 'scatter', mode: 'markers', x: d.x, y: d.y,
      xaxis: 'x' + ax, yaxis: 'y' + ax,
      name: seriesNames[s], legendgroup: seriesNames[s], legendrank: s + 1,
      showlegend: i === 0,
      marker: { size: 14, color: colors[s], opacity: 0.55, line: { color: 'rgba(255,255,255,0.7)', width: 1 } },
      hoverinfo: 'skip'
    });
  });
  // 1:1 line
  traces.push({
    type: 'scatter', mode: 'lines', x: axRange, y: axRange,
    xaxis: 'x' + ax, yaxis: 'y' + ax,
    line: { color: '#222', width: 1.8 }, showlegend: false, hoverinfo: 'skip'
  });
});

function axisSpec(domain, anchor, showLabels) {
  return {
    domain: domain, anchor: anchor, range: axRange, autorange: false,
    tickmode: 'array', tickvals: tickVals, ticktext: tickVals.map(String),
    ticks: 'outside', ticklen: 11, tickwidth: 2.5, tickcolor: '#000',
    showticklabels: showLabels, ticklabelstandoff: 6,
    tickfont: { family: FONT, size: 46, color: '#000' },
    showgrid: true, gridcolor: '#d9d9d9', gridwidth: 2,
    minor: { dtick: 2, tick0: 0, ticks: 'outside', ticklen: 6, tickwidth: 1.5, tickcolor: '#000',
             showgrid: true, gridcolor: '#e3e3e3', gridwidth: 1.5, griddash: 'dot' },
    showline: true, linecolor: '#000', linewidth: 2.5, mirror: true,
    zeroline: false, fixedrange: true
  };
}

const layout = {
  width: W, height: H,
  margin: { l: 0, r: 0, t: 0, b: 0 },
  paper_bgcolor: '#fff', plot_bgcolor: '#fff',
  font: { family: FONT, color: '#000' },
  showlegend: true,
  legend: {
    x: 2990 / W, y: 1 - 735 / H, xanchor: 'left', yanchor: 'top',
    font: { family: FONT, size: 46, color: '#000' },
    itemwidth: 170, tracegroupgap: 28, bgcolor: 'rgba(0,0,0,0)', traceorder: 'grouped'
  },
  annotations: [{
    xref: 'paper', yref: 'paper', x: 3064 / W, y: 1 - 676 / H,
    xanchor: 'left', yanchor: 'middle', text: 'Timestamp', showarrow: false,
    font: { family: FONT, size: 62, color: '#000' }
  }]
};

panelLetters.forEach((p, i) => {
  const col = i % 3, row = Math.floor(i / 3);
  const ax = i === 0 ? '' : String(i + 1);
  const [x0, x1] = colsPx[col];
  const [y0, y1] = rowsPx[row];
  layout['xaxis' + ax] = axisSpec([x0 / W, x1 / W], 'y' + ax, row === 1);
  layout['yaxis' + ax] = axisSpec([1 - y1 / H, 1 - y0 / H], 'x' + ax, col === 0);

  const lines = [
    '<i>R</i><sup>2</sup> = ' + fmt(r2[i]),
    'RMSE = ' + fmt(rmse[i]),
    'RMSE<sub><i>\u03b4</i></sub> = ' + fmt(rmseD[i]),
    'MAE = ' + fmt(mae[i]),
    'MAE<sub><i>\u03b4</i></sub> = ' + fmt(maeD[i]),
    'MBE = ' + fmt(mbe[i])
  ];
  lines.forEach((t, k) => {
    layout.annotations.push({
      xref: 'paper', yref: 'paper', x: (x0 + 27) / W, y: 1 - (y0 + 45 + 43.3 * k) / H,
      xanchor: 'left', yanchor: 'middle', text: t, showarrow: false,
      font: { family: FONT, size: 45, color: '#000' }
    });
  });

  layout.annotations.push({
    xref: 'paper', yref: 'paper', x: labelX[col] / W, y: 1 - labelY[row] / H,
    xanchor: 'center', yanchor: 'middle', text: '<b>(' + p + ')</b>', showarrow: false,
    font: { family: FONT, size: 74, color: '#000' }
  });

  if (row === 1) {
    layout.annotations.push({
      xref: 'paper', yref: 'paper', x: (x0 + x1) / 2 / W, y: 1 - 2140 / H,
      xanchor: 'center', yanchor: 'middle', text: 'Actual Fine LST [K]', showarrow: false,
      font: { family: FONT, size: 62, color: '#000' }
    });
  }
  if (col === 0) {
    layout.annotations.push({
      xref: 'paper', yref: 'paper', x: 46 / W, y: 1 - ((y0 + y1) / 2 + 5) / H,
      xanchor: 'center', yanchor: 'middle', text: 'Predicted Fine LST [K]', showarrow: false,
      textangle: -90, font: { family: FONT, size: 62, color: '#000' }
    });
  }
});

Plotly.newPlot('plot', traces, layout, { staticPlot: true, displayModeBar: false });
</script>
</body>
</html>
